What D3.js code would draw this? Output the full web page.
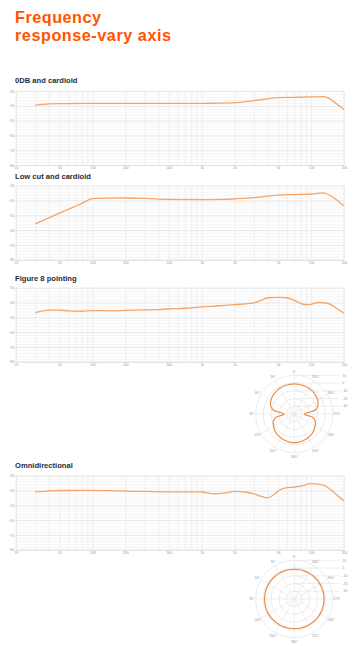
<!DOCTYPE html>
<html>
<head>
<meta charset="utf-8">
<script src="https://cdn.jsdelivr.net/npm/d3@7"></script>
<style>
body { margin: 0; background: #fff; }
svg { display: block; font-family: "Liberation Sans", Arial, sans-serif; }
</style>
</head>
<body>
<script>
// tick labels
var xTickVals = [20, 50, 100, 200, 500, 1000, 2000, 5000, 10000, 20000];
var xTickNames = ["20", "50", "100", "200", "500", "1k", "2k", "5k", "10k", "20k"];
var yTickVals = [-30, -40, -50, -60, -70, -80];
var ringVals = [10, 0, -10, -20, -30];
var angleVals = [0, 30, 60, 90, 120, 150, 180, 210, 240, 270, 300, 330];

// 0DB and cardioid
var freq1 = [30, 40, 50, 60, 80, 100, 150, 200, 300, 500, 700, 1000, 1500, 2000, 3000, 4000, 5000, 7000, 10000, 13000, 14000, 16000, 18000, 20000];
var db1 = [-39.6, -38.7, -38.5, -38.5, -38.4, -38.4, -38.4, -38.4, -38.4, -38.4, -38.4, -38.3, -38.2, -37.9, -36.5, -35.3, -34.5, -34.3, -34.0, -33.8, -34.3, -37.0, -40.0, -42.6];

// Low cut and cardioid
var freq2 = [30, 40, 50, 60, 80, 100, 150, 200, 300, 500, 1000, 1500, 2000, 3000, 4000, 5000, 7000, 10000, 12000, 13000, 14000, 16000, 18000, 20000];
var db2 = [-55.8, -51.7, -48.5, -46.0, -41.9, -38.7, -38.4, -38.3, -38.6, -39.2, -39.4, -39.3, -38.9, -38.1, -37.0, -36.3, -36.0, -35.6, -35.0, -34.9, -35.6, -38.0, -40.8, -43.5];

// Figure 8 pointing
var freq3 = [30, 40, 50, 60, 80, 100, 150, 200, 300, 400, 500, 700, 1000, 1500, 2000, 2500, 3000, 3500, 4000, 5000, 6000, 7000, 8000, 9000, 10000, 11000, 12000, 14000, 16000, 18000, 20000];
var db3 = [-46.8, -45.1, -45.2, -45.6, -45.9, -45.5, -45.6, -45.3, -45.0, -44.8, -44.4, -43.9, -43.0, -42.2, -41.4, -40.9, -40.3, -38.5, -36.8, -36.5, -36.8, -38.5, -40.5, -41.5, -41.3, -40.3, -40.0, -40.4, -42.5, -45.0, -47.3];

// Omnidirectional
var freq4 = [30, 40, 50, 60, 80, 100, 150, 200, 300, 500, 700, 1000, 1300, 1600, 2000, 2500, 3000, 3500, 4000, 4500, 5000, 6000, 7000, 8000, 10000, 12000, 13000, 14000, 16000, 18000, 20000];
var db4 = [-40.9, -40.2, -40.0, -40.0, -39.9, -39.9, -40.1, -40.4, -40.6, -40.9, -40.9, -41.0, -42.3, -41.8, -40.6, -41.0, -42.3, -44.0, -45.0, -43.2, -40.3, -38.0, -37.8, -37.0, -35.4, -35.8, -36.4, -37.6, -41.0, -44.2, -47.0];

// polar patterns, every 10 degrees
var polarAngles = [0, 10, 20, 30, 40, 50, 60, 70, 80, 90, 100, 110, 120, 130, 140, 150, 160, 170, 180, 190, 200, 210, 220, 230, 240, 250, 260, 270, 280, 290, 300, 310, 320, 330, 340, 350];
var polarFig8 = [-1.2, -1.3, -1.5, -2.0, -2.6, -3.6, -5.0, -7.5, -13, -27, -16, -11, -9, -7, -5.6, -4.6, -3.8, -3.2, -3.0, -3.2, -3.8, -4.6, -5.6, -7, -9, -11, -16, -27, -13, -7.5, -5.0, -3.6, -2.6, -2.0, -1.5, -1.3];
var polarOmni = [-1.6, -1.6, -1.6, -1.6, -1.6, -1.6, -1.6, -1.6, -1.6, -1.6, -1.6, -1.6, -1.6, -1.6, -1.6, -1.6, -1.6, -1.6, -1.6, -1.6, -1.6, -1.6, -1.6, -1.6, -1.6, -1.6, -1.6, -1.6, -1.6, -1.6, -1.6, -1.6, -1.6, -1.6, -1.6, -1.6];

var w = 360, h = 646;
var svg = d3.select("body").append("svg").attr("width", w).attr("height", h);

// heading, two lines
var orange = "#ff5500";
svg.append("text").attr("x", 15).attr("y", 22.8).attr("fill", orange)
    .attr("font-size", 16.2).attr("font-weight", "bold")
    .attr("textLength", 86).attr("lengthAdjust", "spacing").text("Frequency");
svg.append("text").attr("x", 15).attr("y", 40.9).attr("fill", orange)
    .attr("font-size", 16.2).attr("font-weight", "bold")
    .attr("textLength", 156).attr("lengthAdjust", "spacing").text("response-vary axis");

var lineCol = "#f6a468";

function graficar(titulo, tituloY, top, freqs, dbs) {
    var x = d3.scaleLog().domain([20, 20000]).range([16, 344]);
    var y = d3.scaleLinear().domain([-80, -30]).range([top + 74, top]);
    var g = svg.append("g");

    g.append("text").attr("x", 15).attr("y", tituloY)
        .attr("font-size", 7.6).attr("font-weight", "bold").attr("fill", "#272c3b")
        .text(titulo);

    // minor horizontal grid
    var gy = g.append("g").attr("transform", "translate(16,0)")
        .call(d3.axisLeft(y).tickValues(d3.range(-80, -29, 2)).tickSize(-328).tickFormat(""));
    gy.select(".domain").remove();
    gy.selectAll("line").attr("stroke", "#efefef").attr("stroke-width", 0.6);

    // vertical grid
    var gx = g.append("g").attr("transform", "translate(0," + (top + 74) + ")")
        .call(d3.axisBottom(x).tickValues(x.ticks()).tickSize(-74).tickFormat(""));
    gx.select(".domain").remove();
    gx.selectAll("line").attr("stroke", "#e8e8e8").attr("stroke-width", 0.6);

    // major horizontal grid + labels
    var gy2 = g.append("g").attr("transform", "translate(16,0)")
        .call(d3.axisLeft(y).tickValues(yTickVals).tickSize(-328).tickPadding(1.5));
    gy2.select(".domain").remove();
    gy2.selectAll("line").attr("stroke", "#e2e2e2").attr("stroke-width", 0.7);
    gy2.selectAll("text").attr("font-size", 3.5).attr("fill", "#9a9a9a").attr("font-family", "Liberation Sans, Arial, sans-serif");

    // x labels
    var gx2 = g.append("g").attr("transform", "translate(0," + (top + 74) + ")")
        .call(d3.axisBottom(x).tickValues(xTickVals).tickSize(0).tickPadding(2)
            .tickFormat(function(d, i) { return xTickNames[i]; }));
    gx2.select(".domain").attr("stroke", "#dcdcdc").attr("stroke-width", 0.7);
    gx2.selectAll("text").attr("font-size", 3.5).attr("fill", "#9a9a9a").attr("font-family", "Liberation Sans, Arial, sans-serif");

    // left / right frame
    g.append("line").attr("x1", 16).attr("x2", 16).attr("y1", top).attr("y2", top + 74)
        .attr("stroke", "#e2e2e2").attr("stroke-width", 0.7);
    g.append("line").attr("x1", 344).attr("x2", 344).attr("y1", top).attr("y2", top + 74)
        .attr("stroke", "#e2e2e2").attr("stroke-width", 0.7);

    var linea = d3.line()
        .x(function(d, i) { return x(freqs[i]); })
        .y(function(d) { return y(d); })
        .curve(d3.curveMonotoneX);
    g.append("path").datum(dbs).attr("d", linea)
        .attr("fill", "none").attr("stroke", lineCol).attr("stroke-width", 1.3);
}

function polar(cx, cy, vals) {
    var r = d3.scaleLinear().domain([-40, 10]).range([0, 38.7]);
    var g = svg.append("g").attr("transform", "translate(" + cx + "," + cy + ")");

    g.selectAll("line.spoke").data(angleVals).enter().append("line")
        .attr("x1", 0).attr("y1", 0)
        .attr("x2", function(d) { return -r(10) * Math.sin(d * Math.PI / 180); })
        .attr("y2", function(d) { return -r(10) * Math.cos(d * Math.PI / 180); })
        .attr("stroke", "#e4e4e4").attr("stroke-width", 0.6);

    g.selectAll("circle.ring").data(ringVals).enter().append("circle")
        .attr("r", function(d) { return r(d); })
        .attr("fill", "none").attr("stroke", "#e2e2e2").attr("stroke-width", 0.7);

    g.selectAll("line.rl").data(ringVals).enter().append("line")
        .attr("x1", 0).attr("x2", 46)
        .attr("y1", function(d) { return -r(d); })
        .attr("y2", function(d) { return -r(d); })
        .attr("stroke", "#e2e2e2").attr("stroke-width", 0.6);
    g.selectAll("text.rl").data(ringVals).enter().append("text")
        .attr("x", 48).attr("y", function(d) { return -r(d) + 1.2; })
        .attr("font-size", 3.5).attr("fill", "#9a9a9a").text(function(d) { return d; });

    g.selectAll("text.ang").data(angleVals).enter().append("text")
        .attr("x", function(d) { return -42.5 * Math.sin(d * Math.PI / 180); })
        .attr("y", function(d) { return -42.5 * Math.cos(d * Math.PI / 180) + 1.2; })
        .attr("text-anchor", "middle")
        .attr("font-size", 3.5).attr("fill", "#9a9a9a").text(function(d) { return d + "°"; });

    var lr = d3.lineRadial()
        .angle(function(d, i) { return -polarAngles[i] * Math.PI / 180; })
        .radius(function(d) { return r(d); })
        .curve(d3.curveCardinalClosed);
    g.append("path").datum(vals).attr("d", lr)
        .attr("fill", "none").attr("stroke", "#f08c44").attr("stroke-width", 1.2);
}

graficar("0DB and cardioid", 82.8, 91, freq1, db1);
graficar("Low cut and cardioid", 178.6, 185.7, freq2, db2);
graficar("Figure 8 pointing", 280.6, 287.7, freq3, db3);
polar(294.3, 414, polarFig8);
graficar("Omnidirectional", 467.6, 475.7, freq4, db4);
polar(294.3, 599, polarOmni);
</script>
</body>
</html>
